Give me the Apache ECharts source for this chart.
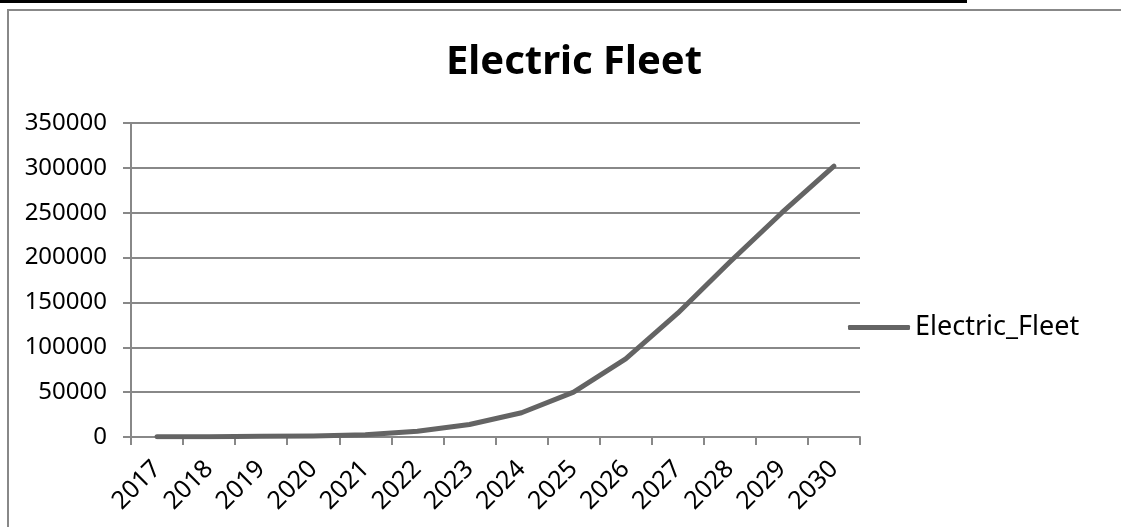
<!DOCTYPE html>
<html>
<head>
<meta charset="utf-8">
<script src="https://cdn.jsdelivr.net/npm/echarts@6/dist/echarts.min.js"></script>
<style>html,body{margin:0;padding:0;background:#fff;}#c{width:1121px;height:527px;}</style>
</head>
<body>
<div id="c"></div>
<script>
const categories = ['2017','2018','2019','2020','2021','2022','2023','2024','2025','2026','2027','2028','2029','2030'];
const fleetValues = [200, 400, 700, 1200, 2500, 6500, 14000, 27000, 50000, 87000, 138000, 195000, 250000, 302000];
const seriesName = 'Electric_Fleet';
const titleText = 'Electric Fleet';

const FONT = 'Noto Sans';
const chart = echarts.init(document.getElementById('c'), null, {renderer: 'canvas'});
chart.setOption({
  animation: false,
  backgroundColor: '#fff',
  title: {
    text: titleText, left: 569, top: 38, textAlign: 'center',
    textStyle: {fontFamily: FONT, fontSize: 40, fontWeight: 'bold', color: '#000'}
  },
  legend: {
    data: [seriesName], left: 843, top: 309, icon: 'roundRect',
    itemWidth: 62, itemHeight: 5, itemGap: 4,
    textStyle: {fontFamily: FONT, fontSize: 27, color: '#000', padding: [0,0,0,0]}
  },
  grid: {left: 131, right: 261, top: 123, bottom: 90},
  xAxis: {
    type: 'category', data: categories, boundaryGap: true,
    axisLine: {lineStyle: {color: '#888', width: 2}},
    axisTick: {show: true, length: 8, lineStyle: {color: '#888', width: 2}},
    axisLabel: {rotate: 45, margin: 28, fontFamily: FONT, fontSize: 25, color: '#000'}
  },
  yAxis: {
    type: 'value', min: 0, max: 350000, interval: 50000,
    axisLine: {show: true, lineStyle: {color: '#888', width: 2}},
    axisTick: {show: true, length: 8, lineStyle: {color: '#888', width: 2}},
    splitLine: {lineStyle: {color: '#888', width: 2}},
    axisLabel: {margin: 24, fontFamily: FONT, fontSize: 24, color: '#000', formatter: function (v) { return String(v); }}
  },
  series: [{
    name: seriesName, type: 'line', data: fleetValues, symbol: 'none',
    lineStyle: {color: '#646464', width: 5, cap: 'round', join: 'round'},
    itemStyle: {color: '#646464'}
  }],
  graphic: [
    {type: 'rect', shape: {x: 0, y: 0, width: 967, height: 3}, style: {fill: '#000'}, silent: true},
    {type: 'rect', shape: {x: 8, y: 10, width: 1200, height: 600}, style: {fill: 'none', stroke: '#888', lineWidth: 2}, silent: true, z: -1}
  ]
});
</script>
</body>
</html>
